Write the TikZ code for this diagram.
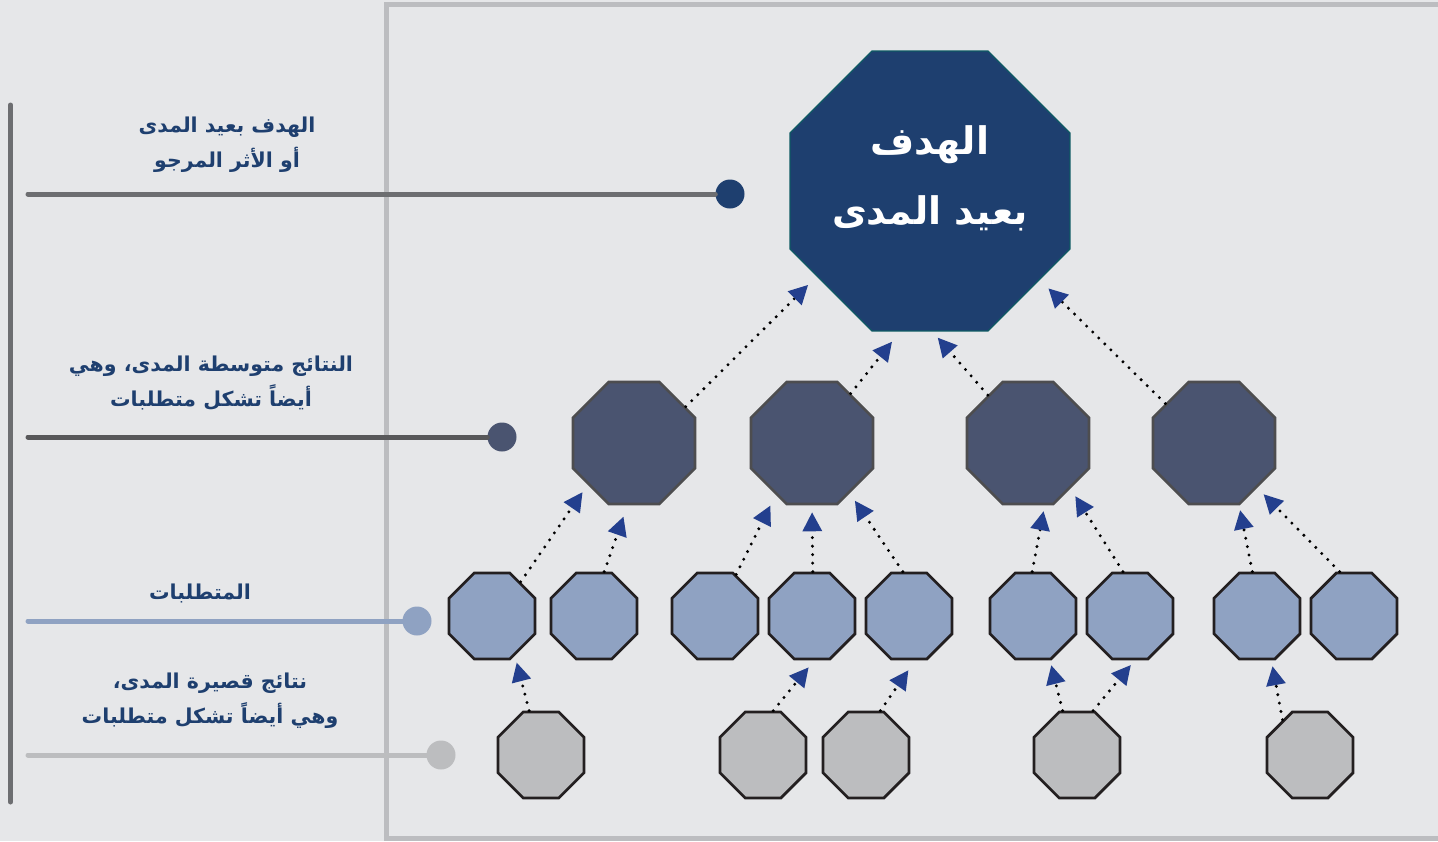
\documentclass[tikz,border=0pt]{standalone}
\usepackage{fontspec}
\usetikzlibrary{shapes.geometric,arrows.meta}
\newfontfamily\arabicfont[Script=Arabic]{DejaVu Sans}
\TeXXeTstate=1

\definecolor{bgc}{HTML}{E6E7E9}
\definecolor{framec}{HTML}{BCBDC0}
\definecolor{rulec}{HTML}{6D6E71}
\definecolor{midrule}{HTML}{58585A}
\definecolor{navy}{HTML}{1E3F6F}
\definecolor{goalborder}{HTML}{0E5A63}
\definecolor{midc}{HTML}{4A5470}
\definecolor{midborder}{HTML}{4D4D4F}
\definecolor{reqc}{HTML}{8FA2C2}
\definecolor{shortc}{HTML}{BCBDBF}
\definecolor{edgec}{HTML}{231F20}
\definecolor{tipc}{HTML}{233F8E}

\tikzset{
  oct/.style={regular polygon, regular polygon sides=8, inner sep=0pt},
  goal/.style={oct, minimum size=303pt, fill=navy, draw=goalborder, line width=1.2pt},
  midout/.style={oct, minimum size=132pt, fill=midc, draw=midborder, line width=2.6pt},
  req/.style={oct, minimum size=93pt, fill=reqc, draw=edgec, line width=2.8pt},
  shortout/.style={oct, minimum size=93pt, fill=shortc, draw=edgec, line width=2.8pt},
  arr/.style={line width=3.3pt, dash pattern=on 0pt off 8.5pt, line cap=round,
    -{Triangle[length=19pt,width=19pt,color=tipc]}},
  lbl/.style={align=center, text=navy, font=\arabicfont\bfseries\fontsize{20.5}{35}\selectfont},
  goaltxt/.style={align=center, text=white, font=\arabicfont\bfseries\fontsize{38}{70}\selectfont},
  dot/.style={circle, minimum size=29pt, inner sep=0pt},
  rule/.style={line width=5pt, line cap=round},
}

\begin{document}
\begin{tikzpicture}[x=1pt,y=-1pt]
\useasboundingbox (0,0) rectangle (1438,841);
\clip (0,0) rectangle (1438,841);
\fill[bgc] (0,0) rectangle (1438,841);

% frame around the diagram area
\draw[framec, line width=5pt] (386.5,4) rectangle (1460,838.5);
% left scale bar
\draw[rulec, line width=5pt, line cap=round] (10.5,105) -- (10.5,802);

% level labels
\node[lbl] (lab1) at (227,145) {\beginR الهدف بعيد المدى\endR\\\beginR أو الأثر المرجو\endR};
\node[lbl] (lab2) at (211,383) {\beginR النتائج متوسطة المدى، وهي\endR\\\beginR أيضاً تشكل متطلبات\endR};
\node[lbl] (lab3) at (200,593) {\beginR المتطلبات\endR};
\node[lbl] (lab4) at (210,701) {\beginR نتائج قصيرة المدى،\endR\\\beginR وهي أيضاً تشكل متطلبات\endR};

% level rules with their markers
\coordinate (r1) at (28,194);
\coordinate (r2) at (28,437);
\coordinate (r3) at (28,621);
\coordinate (r4) at (28,755);
\node[dot, fill=navy] (d1) at (730,194) {};
\node[dot, fill=midc] (d2) at (502,437) {};
\node[dot, fill=reqc] (d3) at (417,621) {};
\node[dot, fill=shortc] (d4) at (441,755) {};
\draw[rule, rulec] (r1) -- (d1);
\draw[rule, midrule] (r2) -- (d2);
\draw[rule, reqc] (r3) -- (d3);
\draw[rule, shortc] (r4) -- (d4);

% long-term goal
\node[goal] (top) at (930,191) {};
\node[goaltxt] (toptxt) at (930,178) {\beginR الهدف\endR\\\beginR بعيد المدى\endR};

% intermediate outcomes
\node[midout] (m1) at (634,443) {};
\node[midout] (m2) at (812,443) {};
\node[midout] (m3) at (1028,443) {};
\node[midout] (m4) at (1214,443) {};

% requirements
\node[req] (q1) at (492,616) {};
\node[req] (q2) at (594,616) {};
\node[req] (q3) at (715,616) {};
\node[req] (q4) at (812,616) {};
\node[req] (q5) at (909,616) {};
\node[req] (q6) at (1033,616) {};
\node[req] (q7) at (1130,616) {};
\node[req] (q8) at (1257,616) {};
\node[req] (q9) at (1354,616) {};

% short-term outcomes
\node[shortout] (s1) at (541,755) {};
\node[shortout] (s2) at (763,755) {};
\node[shortout] (s3) at (866,755) {};
\node[shortout] (s4) at (1077,755) {};
\node[shortout] (s5) at (1310,755) {};

% intermediate -> goal
\draw[arr, shorten >=12pt] (m1.35) -- (top.217);
\draw[arr, shorten >=13pt] (m2.52) -- (top.258);
\draw[arr, shorten >=8pt] (m3.130) -- (top.271);
\draw[arr, shorten >=12pt] (m4.141) -- (top.321);

% requirements -> intermediate
\draw[arr, shorten >=9pt] (q1.50) -- (m1.222);
\draw[arr, shorten >=12pt] (q2.77) -- (m1.264);
\draw[arr, shorten >=12pt] (q3.63) -- (m2.235);
\draw[arr, shorten >=7pt] (q4.89) -- (m2.270);
\draw[arr, shorten >=9pt] (q5.98) -- (m2.307);
\draw[arr, shorten >=6pt] (q6.91) -- (m3.285);
\draw[arr, shorten >=9pt] (q7.99) -- (m3.313);
\draw[arr, shorten >=5pt] (q8.96) -- (m4.292);
\draw[arr, shorten >=9pt] (q9.108) -- (m4.314);

% short-term -> requirements
\draw[arr, shorten >=7pt] (s1.105) -- (q1.300);
\draw[arr, shorten >=9pt] (s2.77) -- (q4.273);
\draw[arr, shorten >=12pt] (s3.72) -- (q5.278);
\draw[arr, shorten >=5pt] (s4.108) -- (q6.291);
\draw[arr, shorten >=6pt] (s4.70) -- (q7.276);
\draw[arr, shorten >=6pt] (s5.128) -- (q8.288);
\end{tikzpicture}
\end{document}
